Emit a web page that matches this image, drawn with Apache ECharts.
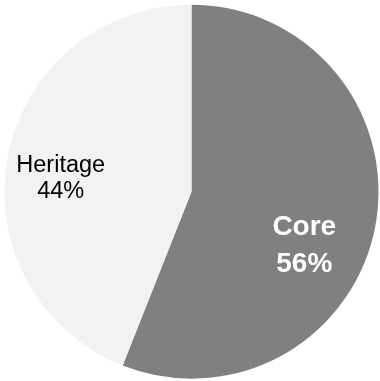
<!DOCTYPE html>
<html>
<head>
<meta charset="utf-8">
<script src="https://cdn.jsdelivr.net/npm/echarts@6/dist/echarts.min.js"></script>
<style>
html,body{margin:0;padding:0;background:#fff;}
#chart{width:380px;height:381px;}
</style>
</head>
<body>
<div id="chart"></div>
<script>
const categories = ['Core', 'Heritage'];
const values = [56, 44];
const sliceColors = ['#808080', '#f2f2f2'];

const chart = echarts.init(document.getElementById('chart'), null, {renderer: 'canvas'});

const labelStyles = [
  {color: '#ffffff', fontWeight: 'bold', fontSize: 28, lineHeight: 37, offset: [18, 36]},
  {color: '#000000', fontWeight: 'normal', fontSize: 23.5, lineHeight: 26, offset: [-36, 5]}
];

chart.setOption({
  animation: false,
  backgroundColor: '#ffffff',
  series: [{
    type: 'pie',
    center: [191.5, 191.7],
    radius: [0, 187],
    startAngle: 90,
    clockwise: true,
    silent: true,
    label: {
      show: true,
      position: 'inside',
      fontFamily: 'Liberation Sans, Arial, sans-serif',
      formatter: p => p.name + '\n' + p.value + '%'
    },
    labelLine: {show: false},
    itemStyle: {borderWidth: 0},
    data: categories.map((c, i) => ({
      name: c,
      value: values[i],
      itemStyle: {color: sliceColors[i]},
      label: labelStyles[i]
    }))
  }]
});
</script>
</body>
</html>
